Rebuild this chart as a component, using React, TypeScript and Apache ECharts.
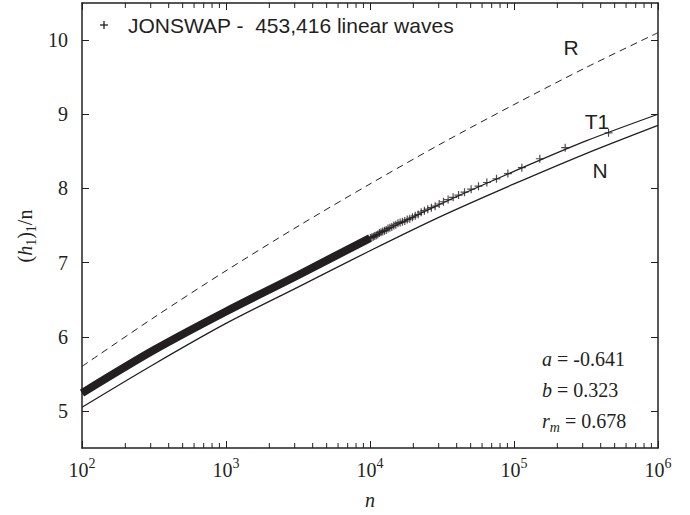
import React, { useEffect, useRef } from 'react';
import * as echarts from 'echarts';

// Curve sample points (n) and values
const nPoints = [100, 316, 1000, 3162, 10000, 31623, 100000, 316228, 1000000];
const rValues = [5.6, 6.26, 6.89, 7.49, 8.06, 8.61, 9.13, 9.63, 10.1];
const t1Values = [5.24, 5.82, 6.34, 6.83, 7.33, 7.8, 8.23, 8.64, 9.0];
const nCurveValues = [5.05, 5.63, 6.18, 6.67, 7.16, 7.63, 8.06, 8.47, 8.85];

// Dense cloud of data points (drawn as a band)
const bandN = [100, 316, 1000, 3162, 10000];
const bandValues = [5.24, 5.82, 6.34, 6.83, 7.33];

// Individual "+" data points at the high-n end
const markerN = [453416, 226708, 151139, 113354, 90683, 75569, 64774, 56677, 50380, 45342, 41220, 37785, 34878, 32387, 30228, 28339, 26672, 25190, 23864, 22671, 21591, 20610, 19714, 18892, 18137, 17439, 16793, 16193, 15635, 15114, 14626, 14169, 13740, 13336, 12955, 12595, 12254, 11932, 11626, 11335, 11059, 10796, 10545, 10305, 10076];
const markerValues = [8.75, 8.55, 8.4, 8.28, 8.2, 8.13, 8.08, 8.03, 7.99, 7.95, 7.91, 7.88, 7.85, 7.82, 7.79, 7.76, 7.74, 7.72, 7.7, 7.68, 7.65, 7.63, 7.61, 7.59, 7.58, 7.56, 7.55, 7.54, 7.53, 7.51, 7.5, 7.48, 7.47, 7.46, 7.44, 7.43, 7.42, 7.41, 7.4, 7.38, 7.37, 7.36, 7.35, 7.34, 7.33];

const minorTickN = [200, 300, 400, 500, 600, 700, 800, 900, 2000, 3000, 4000, 5000, 6000, 7000, 8000, 9000, 20000, 30000, 40000, 50000, 60000, 70000, 80000, 90000, 200000, 300000, 400000, 500000, 600000, 700000, 800000, 900000];
const yTicks = [5, 6, 7, 8, 9, 10];

const INK = '#231f20';
const SERIF = '"Liberation Serif", "Times New Roman", serif';
const SANS = '"Liberation Sans", Arial, sans-serif';

export default function App() {
  const ref = useRef<HTMLDivElement>(null);
  useEffect(() => {
    document.body.style.margin = '0';
    const chart = echarts.init(ref.current!, undefined, { renderer: 'svg' });
    const pairs = (xs: number[], ys: number[]) => xs.map((x, i) => [x, ys[i]]);
    const axisLine = { show: true, lineStyle: { color: INK, width: 1.5 } };
    const option: any = {
      animation: false,
      backgroundColor: '#fff',
      grid: { left: 82, right: 32, top: 3, bottom: 57, containLabel: false },
      xAxis: [
        {
          type: 'log', logBase: 10, min: 100, max: 1000000, position: 'bottom',
          axisLine, axisTick: { inside: true, length: 7, lineStyle: { color: INK, width: 1 } },
          splitLine: { show: false }, minorTick: { show: false },
          axisLabel: {
            margin: 8, color: INK,
            formatter: (v: number) => `{b|10}{s|${Math.round(Math.log10(v))}}`,
            rich: {
              b: { fontFamily: SERIF, fontSize: 20, color: INK },
              s: { fontFamily: SERIF, fontSize: 14, color: INK, padding: [0, 0, 14, 0] },
            },
          },
          name: 'n', nameLocation: 'middle', nameGap: 42,
          nameTextStyle: { fontFamily: SERIF, fontSize: 20, fontStyle: 'italic', color: INK },
        },
        {
          type: 'log', logBase: 10, min: 100, max: 1000000, position: 'top',
          axisLine, axisTick: { inside: true, length: 7, lineStyle: { color: INK, width: 1 } },
          axisLabel: { show: false }, splitLine: { show: false },
        },
      ],
      yAxis: [
        {
          type: 'value', min: 4.5, max: 10.5, position: 'left',
          axisLine, splitLine: { show: false },
          axisTick: { inside: true, length: 7, customValues: yTicks, lineStyle: { color: INK, width: 1 } },
          axisLabel: { customValues: yTicks, margin: 14, fontFamily: SERIF, fontSize: 20, color: INK },
        },
        {
          type: 'value', min: 4.5, max: 10.5, position: 'right',
          axisLine, splitLine: { show: false },
          axisTick: { inside: true, length: 7, customValues: yTicks, lineStyle: { color: INK, width: 1 } },
          axisLabel: { show: false },
        },
      ],
      series: [
        {
          type: 'line', name: 'R', data: pairs(nPoints, rValues), showSymbol: false, smooth: 0.3,
          lineStyle: { color: INK, width: 1, type: [7, 5] },
        },
        {
          type: 'line', name: 'N', data: pairs(nPoints, nCurveValues), showSymbol: false, smooth: 0.3,
          lineStyle: { color: INK, width: 1.3 },
        },
        {
          type: 'line', name: 'T1', data: pairs(nPoints, t1Values), showSymbol: false, smooth: 0.3,
          lineStyle: { color: INK, width: 1.3 },
        },
        {
          type: 'line', name: 'band', data: pairs(bandN, bandValues), showSymbol: false, smooth: 0.3,
          lineStyle: { color: INK, width: 8, cap: 'butt' },
        },
        {
          type: 'scatter', name: 'JONSWAP', data: pairs(markerN, markerValues),
          symbol: 'path://M0 5H10M5 0V10', symbolSize: 8,
          itemStyle: { color: 'none', borderColor: INK, borderWidth: 1.2 },
        },
        {
          type: 'custom', name: 'minorTicks', silent: true, clip: false,
          data: minorTickN.map((n) => [n, 4.5]),
          renderItem: (params: any, api: any) => {
            const n = api.value(0);
            const b = api.coord([n, 4.5]);
            const t = api.coord([n, 10.5]);
            const st = { stroke: INK, lineWidth: 1 };
            return {
              type: 'group',
              children: [
                { type: 'line', shape: { x1: b[0], y1: b[1], x2: b[0], y2: b[1] - 5 }, style: st },
                { type: 'line', shape: { x1: t[0], y1: t[1], x2: t[0], y2: t[1] + 5 }, style: st },
              ],
            };
          },
        },
      ],
      graphic: [
        { type: 'line', shape: { x1: 100, y1: 25, x2: 108, y2: 25 }, style: { stroke: INK, lineWidth: 1.3 } },
        { type: 'line', shape: { x1: 104, y1: 21, x2: 104, y2: 29 }, style: { stroke: INK, lineWidth: 1.3 } },
        { type: 'text', x: 128, y: 25, style: { text: 'JONSWAP -  453,416 linear waves', fontFamily: SANS, fontSize: 21, fill: INK, verticalAlign: 'middle' } },
        { type: 'text', x: 571, y: 47, style: { text: 'R', fontFamily: SANS, fontSize: 21, fill: INK, align: 'center', verticalAlign: 'middle' } },
        { type: 'text', x: 597, y: 121, style: { text: 'T1', fontFamily: SANS, fontSize: 21, fill: INK, align: 'center', verticalAlign: 'middle' } },
        { type: 'text', x: 600, y: 170, style: { text: 'N', fontFamily: SANS, fontSize: 21, fill: INK, align: 'center', verticalAlign: 'middle' } },
        {
          type: 'text', x: 542, y: 359,
          style: { text: '{i|a} = -0.641', fontFamily: SERIF, fontSize: 20, fill: INK, verticalAlign: 'middle',
            rich: { i: { fontFamily: SERIF, fontSize: 20, fontStyle: 'italic', fill: INK } } },
        },
        {
          type: 'text', x: 542, y: 390,
          style: { text: '{i|b} = 0.323', fontFamily: SERIF, fontSize: 20, fill: INK, verticalAlign: 'middle',
            rich: { i: { fontFamily: SERIF, fontSize: 20, fontStyle: 'italic', fill: INK } } },
        },
        {
          type: 'text', x: 542, y: 421,
          style: { text: '{i|r}{sub|m} = 0.678', fontFamily: SERIF, fontSize: 20, fill: INK, verticalAlign: 'middle',
            rich: {
              i: { fontFamily: SERIF, fontSize: 20, fontStyle: 'italic', fill: INK },
              sub: { fontFamily: SERIF, fontSize: 14, fontStyle: 'italic', fill: INK, padding: [12, 0, 0, 0] },
            } },
        },
        {
          type: 'text', x: 25, y: 236, rotation: Math.PI / 2,
          style: { text: '({i|h}{sub|1}){sub|1}/n', fontFamily: SERIF, fontSize: 20, fill: INK, align: 'center', verticalAlign: 'middle',
            rich: {
              i: { fontFamily: SERIF, fontSize: 20, fontStyle: 'italic', fill: INK },
              sub: { fontFamily: SERIF, fontSize: 14, fill: INK, padding: [12, 0, 0, 0] },
            } },
        },
      ],
    };
    chart.setOption(option);
    return () => chart.dispose();
  }, []);
  return <div ref={ref} style={{ width: 690, height: 515 }} />;
}
